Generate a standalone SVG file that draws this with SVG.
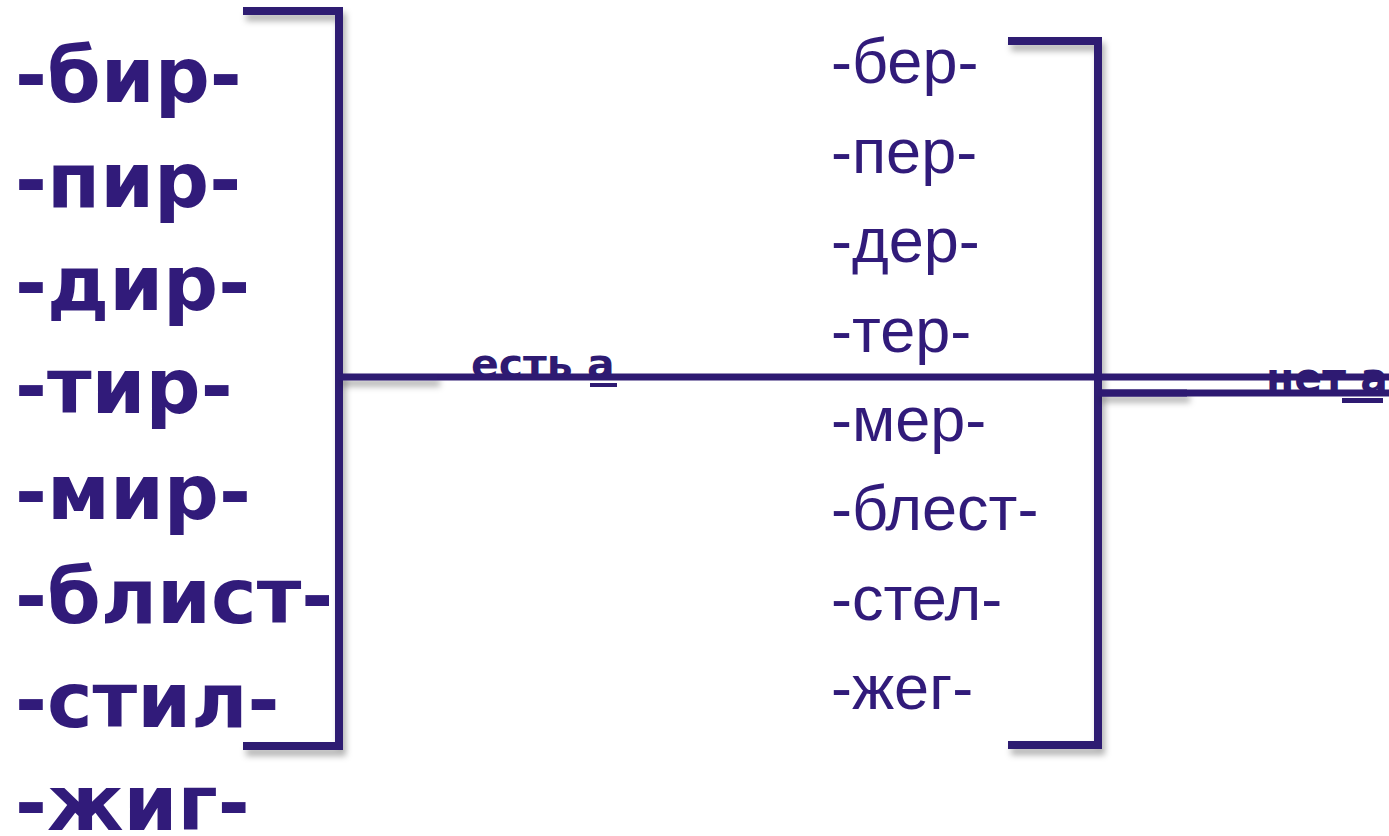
<svg xmlns="http://www.w3.org/2000/svg" width="1389" height="836" viewBox="0 0 1389 836">
<defs>
<filter id="sh" filterUnits="userSpaceOnUse" x="0" y="0" width="1389" height="836">
<feDropShadow dx="3" dy="6" stdDeviation="3" flood-color="#000" flood-opacity="0.3"/>
</filter>
<style>
.ln{stroke:#2e1a72;fill:none;stroke-width:7}
.br{stroke:#2e1a72;fill:none;stroke-width:8;stroke-linejoin:miter}
.b{font-family:"DejaVu Sans",sans-serif;font-weight:bold;font-size:77px;fill:#311b7a}
.r{font-family:"Liberation Sans",Arial,sans-serif;font-size:63px;fill:#311b7a}
.lb{font-family:"DejaVu Sans",sans-serif;font-weight:bold;font-size:41px;fill:#2e1a72}
</style>
</defs>
<rect width="1389" height="836" fill="#fff"/>
<g id="left-list">
<text class="b" x="15" y="102">-бир-</text>
<text class="b" x="15" y="207">-пир-</text>
<text class="b" x="15" y="310">-дир-</text>
<text class="b" x="15" y="413">-тир-</text>
<text class="b" x="15" y="519">-мир-</text>
<text class="b" x="15" y="623">-блист-</text>
<text class="b" x="15" y="727">-стил-</text>
<text class="b" x="15" y="830">-жиг-</text>
</g>
<g id="right-list">
<text class="r" x="831" y="83">-бер-</text>
<text class="r" x="831" y="173">-пер-</text>
<text class="r" x="831" y="262">-дер-</text>
<text class="r" x="831" y="352">-тер-</text>
<text class="r" x="831" y="441">-мер-</text>
<text class="r" x="831" y="530">-блест-</text>
<text class="r" x="831" y="620">-стел-</text>
<text class="r" x="831" y="709">-жег-</text>
</g>
<g id="connectors">
<path class="br" filter="url(#sh)" d="M243 11 H339 V746 H243"/>
<path class="br" filter="url(#sh)" d="M1008 41 H1098 V745 H1008"/>
<path class="ln" filter="url(#sh)" d="M339 377 H437"/>
<path class="ln" filter="url(#sh)" d="M1098 393 H1187"/>
</g>
<g id="label-est">
<text class="lb" x="471" y="378">есть а</text>
<rect x="590" y="383" width="27" height="4" fill="#2e1a72"/>
</g>
<g id="label-net">
<text class="lb" x="1266" y="392">нет а</text>
<rect x="1342" y="398" width="41" height="5" fill="#2e1a72"/>
</g>
<g id="lines">
<path class="ln" d="M437 377 H1389"/>
<path class="ln" d="M1098 393 H1389"/>
</g>
</svg>
